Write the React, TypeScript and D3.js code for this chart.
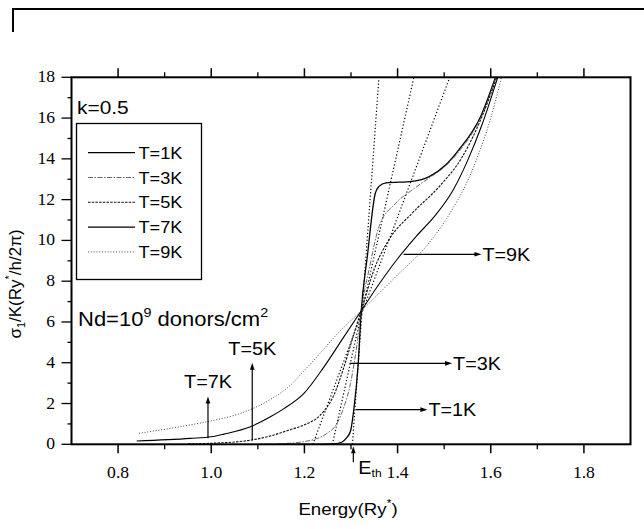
import React from "react"
import * as d3 from "d3"

const W = 644
const H = 529

// sigma_1 vs energy
const T1_E = [1.15, 1.24, 1.263, 1.28, 1.29, 1.299, 1.306, 1.315, 1.322, 1.335, 1.352, 1.36, 1.375, 1.431, 1.467, 1.503, 1.531, 1.578, 1.61]
const T1_S = [0, 0, 0.02, 0.1, 0.3, 0.65, 1.7, 3.8, 6.55, 9.2, 12.3, 12.65, 12.82, 12.9, 13.12, 13.7, 14.43, 16.07, 18]

const T3_E = [1.1, 1.15, 1.199, 1.249, 1.27, 1.285, 1.299, 1.31, 1.317, 1.322, 1.34, 1.36, 1.396, 1.431, 1.467, 1.503, 1.535, 1.58, 1.611]
const T3_S = [0, 0.03, 0.13, 0.54, 1.03, 1.84, 2.99, 4.46, 5.6, 6.55, 8.7, 10.67, 11.82, 12.47, 13.05, 13.65, 14.45, 16.1, 18]

const T5_E = [0.95, 1.0, 1.084, 1.127, 1.17, 1.199, 1.235, 1.263, 1.285, 1.306, 1.322, 1.35, 1.381, 1.431, 1.489, 1.539, 1.578, 1.613]
const T5_S = [0.02, 0.05, 0.2, 0.41, 0.72, 0.95, 1.45, 2.4, 3.8, 5.4, 6.55, 8.6, 10.02, 11.33, 12.63, 14.1, 15.9, 18]

const T7_E = [0.84, 0.955, 1.0, 1.027, 1.084, 1.127, 1.156, 1.199, 1.242, 1.285, 1.322, 1.36, 1.4, 1.44, 1.48, 1.52, 1.55, 1.58, 1.615]
const T7_S = [0.16, 0.29, 0.37, 0.5, 0.86, 1.35, 1.75, 2.5, 3.8, 5.28, 6.55, 7.85, 9.1, 10.2, 11.2, 12.5, 13.9, 15.6, 18]

const T9_E = [0.845, 0.955, 1.0, 1.063, 1.127, 1.17, 1.199, 1.235, 1.27, 1.322, 1.36, 1.396, 1.467, 1.517, 1.55, 1.575, 1.6, 1.623]
const T9_S = [0.54, 0.95, 1.15, 1.52, 2.2, 2.9, 3.6, 4.5, 5.4, 6.55, 7.4, 8.22, 9.86, 11.5, 12.9, 14.3, 16.0, 18]

const SERIES_E = [T1_E, T3_E, T5_E, T7_E, T9_E]
const SERIES_S = [T1_S, T3_S, T5_S, T7_S, T9_S]
const LEGEND = ["T=1K", "T=3K", "T=5K", "T=7K", "T=9K"]

// straight dotted guide lines through the crossing point
const GUIDE_E0 = [1.218, 1.26, 1.303]
const GUIDE_E18 = [1.512, 1.435, 1.36]

// annotation arrows
const NOTE_LABELS = ["T=7K", "T=5K", "T=3K", "T=1K", "T=9K"]
const NOTE_FROM = [[0.993, 0.3], [1.088, 0.2], [1.297, 3.97], [1.31, 1.7], [1.413, 9.32]]
const NOTE_TO = [[0.993, 2.35], [1.088, 4.0], [1.517, 3.97], [1.464, 1.7], [1.58, 9.32]]

const E_TH = 1.305

const X_MAJOR = [0.8, 1.0, 1.2, 1.4, 1.6, 1.8]
const X_MINOR = [0.9, 1.1, 1.3, 1.5, 1.7]
const Y_MAJOR = [0, 2, 4, 6, 8, 10, 12, 14, 16, 18]
const Y_MINOR = [1, 3, 5, 7, 9, 11, 13, 15, 17]

const DASH = ["", "5,1.5,1.5,1.5", "2.5,1.2", "", "1,1.8"]
const STROKE_W = [1.3, 0.8, 1.1, 1.1, 0.9]
const STROKE_C = ["#000", "#444", "#111", "#000", "#333"]

const SANS = "'Liberation Sans', Arial, sans-serif"
const SERIF = "'Liberation Serif', 'Times New Roman', serif"
const SX = 1.1

function Txt({ x, y, size, anchor = "start", family = SANS, children }: any) {
  return (
    <text
      transform={`translate(${x},${y}) scale(${SX},1)`}
      fontSize={size}
      fontFamily={family}
      textAnchor={anchor}
      fill="#000"
    >
      {children}
    </text>
  )
}

function head(x: number, y: number, dx: number, dy: number) {
  const len = 7, hw = 2.3
  const bx = x - dx * len, by = y - dy * len
  return `M${x},${y}L${bx - dy * hw},${by + dx * hw}L${bx + dy * hw},${by - dx * hw}Z`
}

export default function App() {
  const x = d3.scaleLinear().domain([0.7, 1.9]).range([71.5, 630.5])
  const y = d3.scaleLinear().domain([0, 18]).range([444.3, 77.3])
  const [x0, x1] = x.range()
  const [y0, y1] = y.range()

  const line = d3
    .line<number[]>()
    .x(d => x(d[0]))
    .y(d => y(d[1]))
    .curve(d3.curveMonotoneX)

  const fmt = d3.format(".1f")

  return (
    <svg width={W} height={H} style={{ position: "absolute", left: 0, top: 0, background: "#fff" }}>
      <defs>
        <clipPath id="plot">
          <rect x={x0} y={y1} width={x1 - x0} height={y0 - y1} />
        </clipPath>
      </defs>

      {/* top-left frame fragment */}
      <path d={`M13,32V9H${W}`} fill="none" stroke="#000" strokeWidth={2} />

      {/* curves */}
      <g clipPath="url(#plot)" fill="none">
        {GUIDE_E0.map((e, i) => (
          <line
            key={"g" + i}
            x1={x(e)}
            y1={y(0)}
            x2={x(GUIDE_E18[i])}
            y2={y(18)}
            stroke="#000"
            strokeWidth={1.2}
            strokeDasharray="1.2,2.2"
          />
        ))}
        {SERIES_E.map((es, i) => (
          <path
            key={"s" + i}
            d={line(es.map((e, j) => [e, SERIES_S[i][j]])) || ""}
            stroke={STROKE_C[i]}
            strokeWidth={STROKE_W[i]}
            strokeDasharray={DASH[i]}
          />
        ))}
      </g>

      {/* axes frame */}
      <rect x={x0} y={y1} width={x1 - x0} height={y0 - y1} fill="none" stroke="#000" strokeWidth={2} />

      {/* x ticks bottom and top */}
      {X_MAJOR.map(v => (
        <g key={"xm" + v}>
          <line x1={x(v)} x2={x(v)} y1={y0} y2={y0 + 9} stroke="#000" strokeWidth={1.5} />
          <line x1={x(v)} x2={x(v)} y1={y1} y2={y1 - 9} stroke="#000" strokeWidth={1.5} />
          <Txt x={x(v)} y={y0 + 34} size={16} anchor="middle" family={SERIF}>
            {fmt(v)}
          </Txt>
        </g>
      ))}
      {X_MINOR.map(v => (
        <g key={"xn" + v}>
          <line x1={x(v)} x2={x(v)} y1={y0} y2={y0 + 5} stroke="#000" strokeWidth={1.3} />
          <line x1={x(v)} x2={x(v)} y1={y1} y2={y1 - 5} stroke="#000" strokeWidth={1.3} />
        </g>
      ))}

      {/* y ticks */}
      {Y_MAJOR.map(v => (
        <g key={"ym" + v}>
          <line x1={x0} x2={x0 - 10} y1={y(v)} y2={y(v)} stroke="#000" strokeWidth={1.3} />
          <Txt x={55} y={y(v) + 5} size={16} anchor="end" family={SERIF}>
            {v}
          </Txt>
        </g>
      ))}
      {Y_MINOR.map(v => (
        <line key={"yn" + v} x1={x0} x2={x0 - 4} y1={y(v)} y2={y(v)} stroke="#000" strokeWidth={1.3} />
      ))}

      {/* annotation arrows */}
      {NOTE_LABELS.map((lab, i) => {
        const fx = x(NOTE_FROM[i][0]), fy = y(NOTE_FROM[i][1])
        const tx = x(NOTE_TO[i][0]), ty = y(NOTE_TO[i][1])
        const len = Math.hypot(tx - fx, ty - fy)
        const dx = (tx - fx) / len, dy = (ty - fy) / len
        const vertical = Math.abs(dy) > 0.5
        return (
          <g key={"n" + i}>
            <line x1={fx} y1={fy} x2={tx - dx * 5} y2={ty - dy * 5} stroke="#000" strokeWidth={1.2} />
            <path d={head(tx, ty, dx, dy)} fill="#000" />
            {vertical ? (
              <Txt x={tx} y={ty - 8} size={18} anchor="middle">
                {lab}
              </Txt>
            ) : (
              <Txt x={tx + 1} y={ty + 6.5} size={18}>
                {lab}
              </Txt>
            )}
          </g>
        )
      })}

      {/* E_th marker */}
      <line x1={x(E_TH)} x2={x(E_TH)} y1={y0 + 18} y2={y0 + 6} stroke="#000" strokeWidth={1.2} />
      <path d={head(x(E_TH), y0 + 2, 0, -1)} fill="#000" />
      <Txt x={x(E_TH) + 5} y={y0 + 30} size={18}>
        E<tspan fontSize={11} dy={3}>th</tspan>
      </Txt>

      {/* panel texts */}
      <Txt x={77} y={114} size={19}>
        k=0.5
      </Txt>
      <Txt x={78} y={326} size={20}>
        Nd=10<tspan fontSize={13} dy={-9}>9</tspan>
        <tspan dy={9}> donors/cm</tspan>
        <tspan fontSize={13} dy={-9}>2</tspan>
      </Txt>

      {/* legend */}
      <rect x={76.5} y={123.5} width={125} height={156} fill="#fff" stroke="#000" strokeWidth={1.3} />
      {LEGEND.map((lab, i) => {
        const ly = 152.7 + i * 24.8
        return (
          <g key={"l" + i}>
            <line
              x1={88}
              x2={135}
              y1={ly}
              y2={ly}
              stroke={STROKE_C[i]}
              strokeWidth={STROKE_W[i]}
              strokeDasharray={DASH[i]}
            />
            <Txt x={138.5} y={ly + 6} size={16.5}>
              {lab}
            </Txt>
          </g>
        )
      })}

      {/* axis titles */}
      <Txt x={348} y={515} size={17} anchor="middle">
        Energy(Ry<tspan fontSize={11} dy={-8}>*</tspan>
        <tspan dy={8}>)</tspan>
      </Txt>
      <text
        transform="translate(21,284) rotate(-90)"
        fontSize={17}
        fontFamily={SANS}
        textAnchor="middle"
      >
        σ<tspan fontSize={11} dy={4}>1</tspan>
        <tspan dy={-4}>/K(Ry</tspan>
        <tspan fontSize={11} dy={-8}>*</tspan>
        <tspan dy={8}>/h/2π)</tspan>
      </text>
    </svg>
  )
}
